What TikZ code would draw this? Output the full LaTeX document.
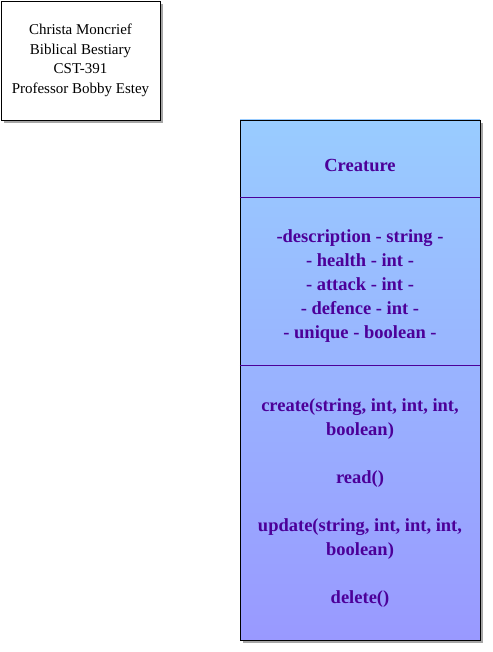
\documentclass[tikz,border=0pt]{standalone}
\usepackage{fontspec}
\setmainfont{Liberation Serif}
\usetikzlibrary{shadows}
\definecolor{umltop}{HTML}{99CCFF}
\definecolor{umlbot}{HTML}{9999FF}
\definecolor{umltext}{HTML}{4C0099}
\begin{document}
\begin{tikzpicture}[x=1pt, y=-1pt,
    boxshadow/.style={drop shadow={shadow xshift=3pt, shadow yshift=-3pt, fill=black, opacity=0.35}},
    classtext/.style={text=umltext, align=center, font=\fontsize{18.5}{24}\selectfont\bfseries}]
            \useasboundingbox (0, 0) rectangle (492, 652);
            \path (0, 197) coordinate (D1);
            \path (0, 365) coordinate (D2);
            \node[draw, fill=white, boxshadow, minimum width=159pt, minimum height=119pt, inner sep=0pt,
                align=center, font=\fontsize{15}{19.5}\selectfont] (author) at (80.5, 60.5)
                {Christa Moncrief\\Biblical Bestiary\\CST-391\\Professor Bobby Estey};
            \node[draw, top color=umltop, bottom color=umlbot, boxshadow, minimum width=240pt,
                minimum height=520pt, inner sep=0pt] (creature) at (360, 380) {};
            \draw[umltext] (creature.west |- D1) -- (creature.east |- D1);
            \draw[umltext] (creature.west |- D2) -- (creature.east |- D2);
            \node[classtext] (title) at (360, 165) {Creature};
            \node[classtext] (fields) at (360, 286)
                {-description - string -\\- health - int -\\- attack - int -\\- defence - int -\\- unique - boolean -};
            \node[classtext] (methods) at (360, 503)
                {create(string, int, int, int,\\boolean)\\[24pt]read()\\[24pt]update(string, int, int, int,\\boolean)\\[24pt]delete()};
        \end{tikzpicture}
\end{document}
